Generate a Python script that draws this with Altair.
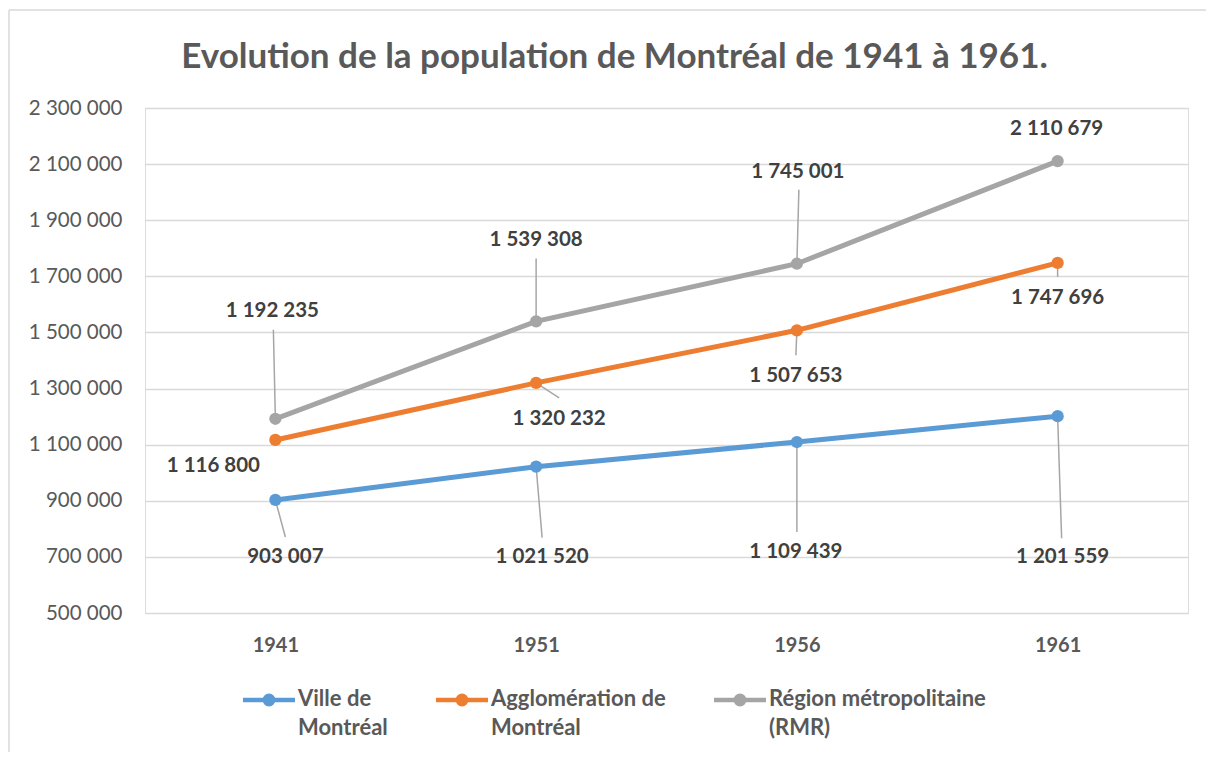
import altair as alt
import pandas as pd

# ---- data ----
years = ["1941", "1951", "1956", "1961"]
series = ["Ville de Montréal", "Agglomération de Montréal", "Région métropolitaine (RMR)"]
ville = [903007, 1021520, 1109439, 1201559]
agglo = [1116800, 1320232, 1507653, 1747696]
rmr = [1192235, 1539308, 1745001, 2110679]
colors = ["#5B9BD5", "#ED7D31", "#A5A5A5"]

# label placement offsets (pixels, relative to point)
label_dx = {
    "Ville de Montréal": [10, 6, -1, 5],
    "Agglomération de Montréal": [-62, 23, -1, 0],
    "Région métropolitaine (RMR)": [-3, 0, 1, -1],
}
label_dy = {
    "Ville de Montréal": [57, 90, 110, 141],
    "Agglomération de Montréal": [26, 36, 46, 35],
    "Région métropolitaine (RMR)": [-108, -81, -92, -32],
}
# leader line end offsets (pixels), None = no leader
lead = {
    "Ville de Montréal": [(10, 37), (6, 71), (0, 90), (4, 122)],
    "Agglomération de Montréal": [None, (23, 15), (-1, 25), (0, 14)],
    "Région métropolitaine (RMR)": [(-2, -89), (0, -63), (2, -74), None],
}

W, H = 1043, 505
YMIN, YMAX = 500000, 2300000
xu = W / 4.0
yu = H / (YMAX - YMIN)

rows = []
for s, vals in zip(series, [ville, agglo, rmr]):
    for i, v in enumerate(vals):
        ld = lead[s][i]
        rows.append({
            "serie": s,
            "idx": i,
            "value": v,
            "label": f"{v:,}".replace(",", " "),
            "lx": i + label_dx[s][i] / xu,
            "ly": v - label_dy[s][i] / yu,
            "has_lead": ld is not None,
            "ex": i + (ld[0] / xu if ld else 0),
            "ey": v - (ld[1] / yu if ld else 0),
        })
df = pd.DataFrame(rows)

FONT = "Lato"
label_expr_x = "[" + ",".join(f"'{y}'" for y in years) + "][datum.value]"

xenc = alt.X("idx:Q", scale=alt.Scale(domain=[-0.5, 3.5], nice=False, zero=False),
             axis=alt.Axis(values=[0, 1, 2, 3], labelExpr=label_expr_x, title=None,
                           grid=False, domain=False, ticks=False, labelPadding=22,
                           labelFontSize=20, labelFontWeight="bold", labelColor="#595959",
                           labelFont=FONT))
yenc = alt.Y("value:Q", scale=alt.Scale(domain=[YMIN, YMAX], nice=False, zero=False),
             axis=alt.Axis(values=list(range(500000, 2300001, 200000)),
                           labelExpr="replace(format(datum.value, ','), regexp(',', 'g'), ' ')",
                           title=None, domain=False, ticks=False, labelPadding=23,
                           labelFontSize=20.5, labelColor="#595959", labelFont=FONT,
                           gridColor="#d9d9d9", gridWidth=1.5))

color_scale = alt.Scale(domain=series, range=colors)

legend_path = ("M-5.2,2.2L5.2,2.2"
               "M0.45,2.2A0.45,0.45 0 1,1 -0.45,2.2A0.45,0.45 0 1,1 0.45,2.2"
               "M0.85,2.2A0.85,0.85 0 1,1 -0.85,2.2A0.85,0.85 0 1,1 0.85,2.2")

legend = alt.Legend(
    title=None, orient="none", direction="horizontal", legendX=113, legendY=570,
    symbolType=legend_path, symbolSize=100, symbolStrokeWidth=4.5,
    labelOffset=18, columnPadding=39, labelFontSize=22, labelFontWeight="bold",
    labelColor="#595959", labelFont=FONT, labelBaseline="top", labelLimit=400,
    labelExpr="datum.label == 'Ville de Montréal' ? ['Ville de', 'Montréal'] : "
              "datum.label == 'Agglomération de Montréal' ? ['Agglomération de', 'Montréal'] : "
              "['Région métropolitaine', '(RMR)']",
)

base = alt.Chart(df)
one = "datum.idx == 0 && datum.serie == 'Ville de Montréal'"

frame_top = base.transform_filter(one).mark_rule(color="#d9d9d9", strokeWidth=1.5).encode(
    x=alt.value(-136), x2=alt.value(1100), y=alt.value(-98)
)
frame_left = base.transform_filter(one).mark_rule(color="#d9d9d9", strokeWidth=1.5).encode(
    x=alt.value(-136), y=alt.value(-98), y2=alt.value(700)
)

leaders = base.transform_filter("datum.has_lead").mark_rule(
    color="#a6a6a6", strokeWidth=1.5
).encode(x=xenc, y=yenc, x2="ex:Q", y2="ey:Q")

lines = base.mark_line(strokeWidth=5).encode(
    x=xenc, y=yenc,
    color=alt.Color("serie:N", scale=color_scale, legend=legend, sort=series),
    detail="serie:N",
)

points = base.mark_circle(size=150, opacity=1).encode(
    x=xenc, y=yenc,
    color=alt.Color("serie:N", scale=color_scale, legend=None),
)

labels = base.mark_text(fontSize=20.5, fontWeight="bold", color="#404040", font=FONT,
                        baseline="middle", align="center").encode(
    x=alt.X("lx:Q"), y=alt.Y("ly:Q"), text="label:N"
)

chart = alt.layer(frame_top, frame_left, leaders, lines, points, labels).properties(
    width=W, height=H,
    title=alt.TitleParams("Evolution de la population de Montréal de 1941 à 1961.",
                          fontSize=35, fontWeight="bold", color="#595959", font=FONT,
                          anchor="middle", frame="group", offset=-94, dx=-52,
                          baseline="alphabetic"),
    padding={"left": 137, "top": 100, "right": 18, "bottom": 139},
    autosize=alt.AutoSizeParams(type="none"),
).configure_view(stroke=None).configure(
    background="white", style={"guide-label": {"lineHeight": 29}}
)

chart.save("out.html", embed_options={"renderer": "svg", "actions": False})
